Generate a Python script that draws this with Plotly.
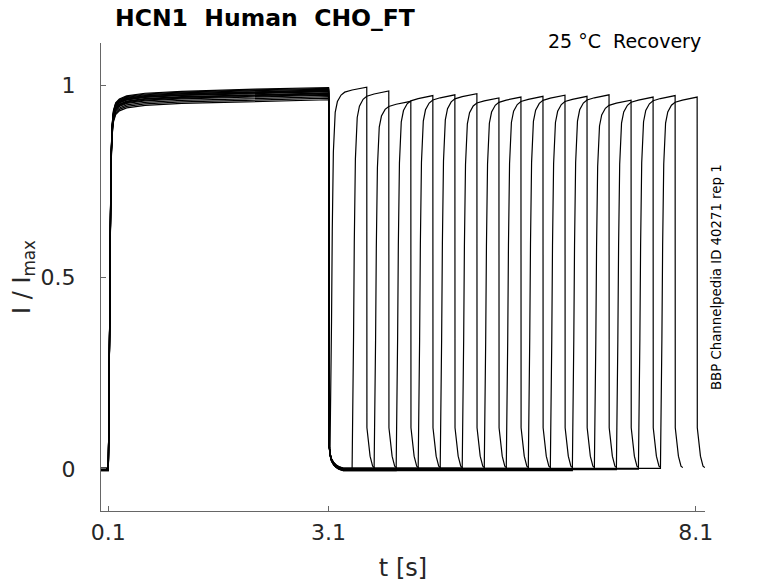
import plotly.graph_objects as go

# --- sweep timing (s) ---
step_on = 0.1       # first pulse starts
step_off = 3.1      # first pulse ends
rise_times = [3.12, 3.42, 3.72, 4.02, 4.32, 4.62, 4.92, 5.22,
              5.52, 5.82, 6.12, 6.42, 6.72, 7.02, 7.32, 7.62]
pulse_len = 0.5     # length of the second (recovery) pulse

# plateau at the end of the first pulse, one per sweep
first_levels = [0.994, 0.990, 0.978, 0.987, 0.974, 0.983, 0.966, 0.992,
                0.980, 0.962, 0.985, 0.976, 0.988, 0.970, 0.979, 0.984]
# plateau reached in the recovery pulse
second_levels = [0.995, 0.985, 0.958, 0.973, 0.975, 0.978, 0.967, 0.969,
                 0.971, 0.974, 0.971, 0.975, 0.961, 0.969, 0.973, 0.969]
# holding level between the pulses
base_levels = [-0.004, -0.002, 0.000, -0.005, -0.003, -0.001, 0.002, -0.004,
               -0.002, 0.001, -0.003, -0.005, 0.000, -0.002, -0.001, 0.001]

# activation after 0.1 s (fraction of plateau)
act_dt = [0, 0.01, 0.02, 0.035, 0.05, 0.07, 0.1, 0.15, 0.25, 0.5, 1.0, 2.0, 3.0]
act_frac = [0, 0.2, 0.5, 0.8, 0.9, 0.94, 0.96, 0.97, 0.978, 0.985, 0.99, 0.996, 1.0]

# deactivation at 3.1 s (fraction of plateau above holding level)
deact_dt = [0, 0.003, 0.006, 0.01, 0.02, 0.04, 0.07, 0.1, 0.14, 0.2]
deact_frac = [1, 0.4, 0.12, 0.06, 0.04, 0.025, 0.015, 0.009, 0.004, 0.0]

# re-opening in the recovery pulse
rise_dt = [0, 0.01, 0.02, 0.03, 0.045, 0.07, 0.1, 0.15, 0.2, 0.3, 0.4, 0.5]
rise_frac = [0, 0.12, 0.35, 0.6, 0.82, 0.93, 0.96, 0.978, 0.986, 0.992, 0.996, 1.0]

# tail current after the recovery pulse
tail_dt = [0, 0.002, 0.02, 0.045, 0.08, 0.105]
tail_val = [None, 0.107, 0.067, 0.033, 0.007, 0.003]

fig = go.Figure()

for k in range(len(rise_times)):
    L1 = first_levels[k]
    L2 = second_levels[k]
    B = base_levels[k]
    tr = rise_times[k]
    td = tr + pulse_len

    t = [0.0, step_on]
    y = [B, B]
    for dt, f in zip(act_dt[1:], act_frac[1:]):
        t.append(step_on + dt)
        y.append(B + (L1 - B) * f)
    for dt, f in zip(deact_dt[1:], deact_frac[1:]):
        if step_off + dt >= tr:
            break
        t.append(step_off + dt)
        y.append(B + (L1 - B) * f)
    t.append(tr)
    y.append(y[-1])
    v0 = y[-1]
    for dt, f in zip(rise_dt[1:], rise_frac[1:]):
        t.append(tr + dt)
        y.append(v0 + (L2 - v0) * f)
    for dt, v in zip(tail_dt[1:], tail_val[1:]):
        t.append(td + dt)
        y.append(v)

    fig.add_trace(go.Scatter(x=t, y=y, mode='lines',
                             line=dict(color='black', width=1.2),
                             hoverinfo='skip'))

# page body adds an 8 px offset, so margins are 8 px smaller on top/left
fig.update_layout(
    width=778, height=583,
    margin=dict(l=93, r=81, t=35, b=80, autoexpand=False),
    plot_bgcolor='white', paper_bgcolor='white',
    showlegend=False,
    font=dict(family='DejaVu Sans', color='#262626'),
    title=dict(text='<b>HCN1  Human  CHO_FT</b>', x=107 / 778, xanchor='left',
               xref='container', y=1 - 10 / 583, yanchor='middle',
               font=dict(size=23.5, color='black')),
)

fig.update_xaxes(
    range=[0, 8.227], tickvals=[0.1, 3.1, 8.1], ticktext=['0.1', '3.1', '8.1'],
    ticks='inside', ticklen=5, tickcolor='#666666',
    showline=True, linecolor='#666666', linewidth=1,
    showgrid=False, zeroline=False, automargin=False,
    tickfont=dict(size=22), ticklabelstandoff=2,
    title=dict(text='t [s]', font=dict(size=24), standoff=14),
)
fig.update_yaxes(
    range=[-0.11, 1.11], tickvals=[0, 0.5, 1], ticktext=['0', '0.5', '1'],
    ticks='inside', ticklen=5, tickcolor='#666666',
    showline=True, linecolor='#666666', linewidth=1,
    showgrid=False, zeroline=False, automargin=False,
    tickfont=dict(size=22), ticklabelstandoff=20,
    title=dict(text='I / I<sub>max</sub>', font=dict(size=24), standoff=14),
)

fig.add_annotation(text='25 °C  Recovery', xref='paper', yref='paper',
                   x=(703 - 101) / 604, y=1 + 2 / 468, xanchor='right', yanchor='middle',
                   showarrow=False, font=dict(size=19, color='black'))
fig.add_annotation(text='BBP Channelpedia ID 40271 rep 1', xref='paper', yref='paper',
                   x=(716 - 101) / 604, y=0.5, xanchor='center', yanchor='middle',
                   textangle=-90, showarrow=False, font=dict(size=13.3, color='black'))

fig.write_html("out.html")
